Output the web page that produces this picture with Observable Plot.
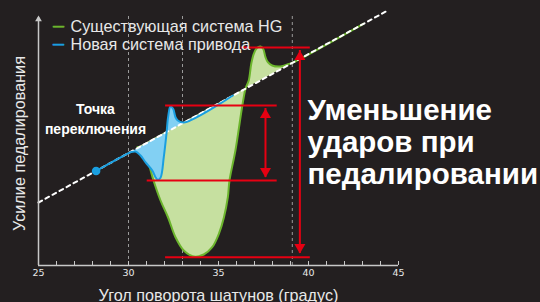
<!DOCTYPE html>
<html><head><meta charset="utf-8">
<script src="https://cdn.jsdelivr.net/npm/d3@7"></script>
<script src="https://cdn.jsdelivr.net/npm/@observablehq/plot@0.6"></script>
<style>
html,body{margin:0;padding:0;background:#231f20;}
</style></head><body><div id="chart"></div>
<script>
// ---- data (x = crank angle, v = force, arbitrary units) ----
const refX = [25, 44.3];
const refV = [63, 254];

const hgX = [30.5, 30.9, 31.15, 31.39, 31.78, 32.2, 32.61, 33.07, 33.63, 34.18, 34.65, 35.02, 35.3, 35.52, 35.61, 35.94, 36.5, 36.68, 36.82, 36.96, 37.15, 37.33, 37.48, 37.61, 37.74, 37.98, 38.44, 38.9, 39.18, 43.05];
const hgV = [118.5, 112, 100, 85, 65, 48, 28.3, 15, 9, 11, 18.3, 31.7, 48, 68.3, 85, 115, 176.7, 185, 201.7, 211.7, 217.7, 219, 216.7, 208.3, 203.3, 200, 199, 201.5, 203.4, 241.7];

const newX = [28.2, 29.56, 30.11, 30.39, 30.67, 30.94, 31.32, 31.5, 31.63, 31.78, 31.96, 32.11, 32.2, 32.33, 32.48, 32.61, 32.74, 33.07, 35.8];
const newV = [94.5, 108.1, 113.3, 114, 110, 103.3, 95, 88.3, 85.7, 87.7, 108.3, 131.7, 148.3, 159, 156.7, 148.3, 145, 142.9, 170];

const guideX = [30, 33, 39.1];
const guideTop = 252;

const levelV  = [218, 160, 85, 8.3];
const levelX1 = [36.28, 32.06, 31.04, 32.06];
const levelX2 = [40.1, 38.26, 38.26, 40.1];

const arrowX  = [37.61, 39.52];
const arrowLo = [88, 12];
const arrowHi = [157, 215];

const majorTicks = [25, 30, 35, 40, 45];
const minorTicks = d3.range(25, 46);
const axisTop = 250;

const legendLabels = ["Существующая система HG", "Новая система привода"];
const xLabel = "Угол поворота шатунов (градус)";
const yLabel = "Усилие педалирования";
const switchNote = "Точка\nпереключения";
const bigNote = "Уменьшение\nударов при\nпедалировании";

// ---- tables ----
const ref = refX.map((x, i) => ({x, v: refV[i]}));
const hg = hgX.map((x, i) => ({x, v: hgV[i]}));
const nw = newX.map((x, i) => ({x, v: newV[i]}));
const levels = levelV.map((v, i) => ({v, x1: levelX1[i], x2: levelX2[i]}));
const arrows = arrowX.map((x, i) => ({x, lo: arrowLo[i], hi: arrowHi[i]}));

const GREEN = "#6cb52d", GREEN_FILL = "#c6e0a0";
const BLUE = "#1a9fe0", BLUE_FILL = "#82d0f3";
const RED = "#e60012";
const AXIS = "#c8c8c8", TXT = "#e8e8e8";

const chart = Plot.plot({
  width: 540, height: 302,
  marginLeft: 38, marginRight: 142, marginTop: 10, marginBottom: 37,
  x: {domain: [25, 45], axis: null},
  y: {domain: [0, 255], axis: null},
  style: {background: "#231f20", color: TXT, fontFamily: "'Liberation Sans', Arial, sans-serif", overflow: "visible"},
  marks: [
    Plot.ruleX(guideX, {y1: 0, y2: guideTop, stroke: "#9a9a9a", strokeDasharray: "3,3", strokeWidth: 1}),
    Plot.line(hg, {x: "x", y: "v", fill: GREEN_FILL, stroke: "none", curve: "catmull-rom"}),
    Plot.line(hg, {x: "x", y: "v", stroke: GREEN, strokeWidth: 2, curve: "catmull-rom"}),
    Plot.line(nw, {x: "x", y: "v", fill: BLUE_FILL, stroke: "none", curve: "catmull-rom"}),
    Plot.line(ref, {x: "x", y: "v", stroke: "white", strokeWidth: 2, strokeDasharray: "4,4"}),
    Plot.line(nw, {x: "x", y: "v", stroke: BLUE, strokeWidth: 2, curve: "catmull-rom"}),
    Plot.dot(nw.slice(0, 1), {x: "x", y: "v", r: 4.3, fill: BLUE}),
    Plot.ruleY(levels, {y: "v", x1: "x1", x2: "x2", stroke: RED, strokeWidth: 2}),
    Plot.ruleX(arrows, {x: "x", y1: "lo", y2: "hi", stroke: RED, strokeWidth: 2}),
    Plot.dot(arrows, {x: "x", y: "hi", symbol: "triangle", r: 4.1, fill: RED, dy: 6.3}),
    Plot.dot(arrows, {x: "x", y: "lo", symbol: "triangle", r: 4.1, fill: RED, rotate: 180, dy: -6.3}),
    // axes
    Plot.axisX(minorTicks, {tickSize: -4, tickFormat: () => "", stroke: AXIS, strokeWidth: 1}),
    Plot.axisX(majorTicks, {tickSize: 0, tickPadding: 4, fontSize: 9.5, fontFamily: "'DejaVu Sans', sans-serif", fill: TXT}),
    Plot.ruleY([0], {stroke: AXIS, strokeWidth: 1.5}),
    Plot.ruleX([25], {y1: 0, y2: axisTop - 2, stroke: AXIS, strokeWidth: 1.5}),
    Plot.dot([axisTop], {x: () => 25, y: d => d, symbol: "triangle", r: 2.5, fill: AXIS, dy: 3.9}),
    // legend
    Plot.text(["—"], {text: d => d, frameAnchor: "top-left", dx: 20, dy: 16, textAnchor: "middle", fontSize: 11, fontWeight: "bold", fill: GREEN, stroke: GREEN, strokeWidth: 0.6, lineAnchor: "middle"}),
    Plot.text(["—"], {text: d => d, frameAnchor: "top-left", dx: 20, dy: 34, textAnchor: "middle", fontSize: 11, fontWeight: "bold", fill: BLUE, stroke: BLUE, strokeWidth: 0.6, lineAnchor: "middle"}),
    Plot.text([legendLabels[0]], {text: d => d, frameAnchor: "top-left", dx: 32, dy: 16, fontSize: 16.2, fill: TXT, textAnchor: "start", lineAnchor: "middle"}),
    Plot.text([legendLabels[1]], {text: d => d, frameAnchor: "top-left", dx: 32, dy: 34, fontSize: 16.2, fill: TXT, textAnchor: "start", lineAnchor: "middle"}),
    // labels
    Plot.text([xLabel], {text: d => d, frameAnchor: "bottom", dy: 35, textAnchor: "middle", fontSize: 16.2, fill: TXT, lineAnchor: "bottom"}),
    Plot.text([yLabel], {text: d => d, frameAnchor: "left", dx: -19, dy: 5.5, textAnchor: "middle", rotate: -90, fontSize: 16.2, fill: TXT, lineAnchor: "middle"}),
    Plot.text([switchNote], {text: d => d, frameAnchor: "top-left", dx: 57, dy: 123, textAnchor: "middle", fontSize: 14, fontWeight: "bold", fill: "white", lineAnchor: "bottom", lineHeight: 1.4}),
    Plot.text([bigNote], {text: d => d, frameAnchor: "top-left", dx: 269, dy: 173, fontSize: 29.5, fontWeight: "bold", fill: "white", textAnchor: "start", lineAnchor: "bottom", lineHeight: 1.085})
  ]
});
document.getElementById("chart").appendChild(chart);
</script>
</body></html>
